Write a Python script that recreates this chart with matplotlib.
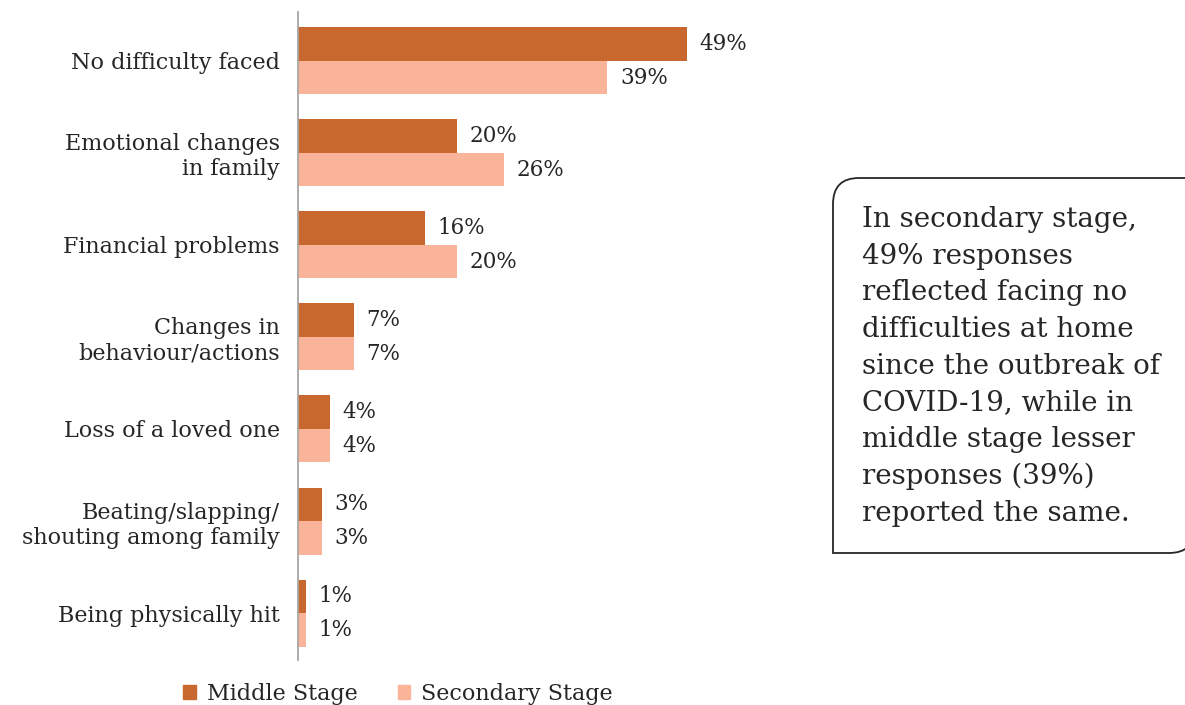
import matplotlib
matplotlib.use("Agg")
import matplotlib.pyplot as plt
import numpy as np
from matplotlib.patches import Patch, PathPatch
from matplotlib.path import Path

categories = [
    "No difficulty faced",
    "Emotional changes\nin family",
    "Financial problems",
    "Changes in\nbehaviour/actions",
    "Loss of a loved one",
    "Beating/slapping/\nshouting among family",
    "Being physically hit",
]
middle_stage = [49, 20, 16, 7, 4, 3, 1]
secondary_stage = [39, 26, 20, 7, 4, 3, 1]
series_names = ["Middle Stage", "Secondary Stage"]
note_text = ("In secondary stage,\n49% responses\nreflected facing no\n"
             "difficulties at home\nsince the outbreak of\nCOVID-19, while in\n"
             "middle stage lesser\nresponses (39%)\nreported the same.")

dark = "#C8682E"
light = "#F9B49A"
text_col = "#262626"

plt.rcParams["font.family"] = ["DejaVu Serif"]

W, H = 1185, 705
fig = plt.figure(figsize=(W / 100, H / 100), dpi=100)
ax = fig.add_axes([298 / W, 1 - 660 / H, 476 / W, 648 / H])

y = np.arange(len(categories))
h = 0.364
b1 = ax.barh(y - h / 2, middle_stage, height=h, color=dark)
b2 = ax.barh(y + h / 2, secondary_stage, height=h, color=light)
for bars in (b1, b2):
    ax.bar_label(bars, fmt="%d%%", padding=9, fontsize=15.5, color=text_col)

ax.set_xlim(0, 60)
ax.set_ylim(6.51, -0.53)
ax.set_yticks(y)
ax.set_yticklabels(categories, fontsize=16, color=text_col,
                   multialignment="right", linespacing=1.18)
ax.tick_params(axis="y", length=0, pad=13)
ax.set_xticks([])
for s in ("top", "right", "bottom"):
    ax.spines[s].set_visible(False)
ax.spines["left"].set_color("#A6A6A6")
ax.spines["left"].set_linewidth(1.3)

# callout box: rounded top-left and bottom-right corners
x0, x1 = 833 / W, 1195 / W
y0, y1 = 1 - 553 / H, 1 - 178 / H
rx, ry = 26 / W, 26 / H
verts = [
    (x0, y0), (x0, y1 - ry), (x0, y1), (x0 + rx, y1),
    (x1, y1), (x1, y0 + ry), (x1, y0), (x1 - rx, y0),
    (x0, y0),
]
codes = [Path.MOVETO, Path.LINETO, Path.CURVE3, Path.CURVE3,
         Path.LINETO, Path.LINETO, Path.CURVE3, Path.CURVE3,
         Path.CLOSEPOLY]
fig.patches.append(PathPatch(Path(verts, codes), transform=fig.transFigure,
                             facecolor="white", edgecolor="#262626", linewidth=1.3))
fig.text(862 / W, 1 - 206 / H, note_text, fontsize=20, color=text_col,
         va="top", ha="left", linespacing=1.46)

handles = [Patch(color=dark), Patch(color=light)]
fig.legend(handles, series_names, loc="center", bbox_to_anchor=(398 / W, 1 - 694 / H),
           ncol=2, frameon=False, fontsize=16, handlelength=0.55, handleheight=0.55,
           handletextpad=0.5, columnspacing=1.8, labelcolor=text_col,
           borderpad=0, borderaxespad=0)

fig.savefig("out.png", dpi=100)
